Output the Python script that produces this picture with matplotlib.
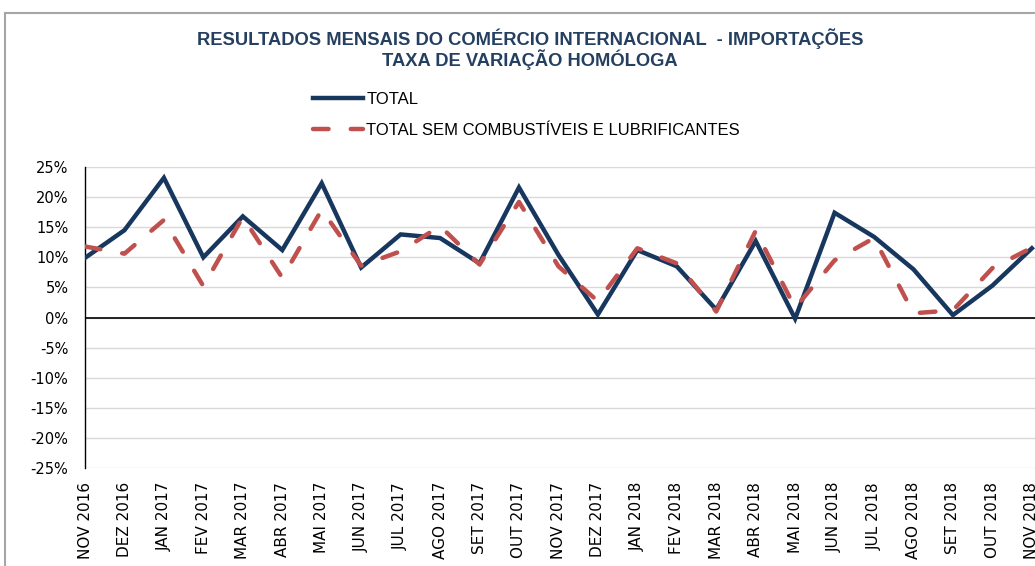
import matplotlib
matplotlib.use("Agg")
import matplotlib.pyplot as plt
from matplotlib.lines import Line2D
from matplotlib.ticker import FuncFormatter

months = ["NOV 2016", "DEZ 2016", "JAN 2017", "FEV 2017", "MAR 2017", "ABR 2017",
          "MAI 2017", "JUN 2017", "JUL 2017", "AGO 2017", "SET 2017", "OUT 2017",
          "NOV 2017", "DEZ 2017", "JAN 2018", "FEV 2018", "MAR 2018", "ABR 2018",
          "MAI 2018", "JUN 2018", "JUL 2018", "AGO 2018", "SET 2018", "OUT 2018",
          "NOV 2018"]
total = [9.9, 14.5, 23.2, 10.0, 16.8, 11.2, 22.3, 8.3, 13.8, 13.2, 9.0, 21.6,
         10.4, 0.5, 11.2, 8.5, 1.3, 12.7, -0.2, 17.4, 13.4, 8.0, 0.4, 5.3, 11.5]
sem_comb = [11.8, 10.6, 16.2, 5.2, 16.7, 6.6, 17.9, 8.6, 11.0, 15.2, 8.8, 19.2,
            8.5, 2.7, 11.5, 9.0, 1.0, 14.4, 1.6, 9.5, 13.2, 0.7, 1.2, 8.2, 11.6]
yticks = [25, 20, 15, 10, 5, 0, -5, -10, -15, -20, -25]

title_lines = ["RESULTADOS MENSAIS DO COMÉRCIO INTERNACIONAL  - IMPORTAÇÕES",
               "TAXA DE VARIAÇÃO HOMÓLOGA"]
label_total = "TOTAL"
label_sem = "TOTAL SEM COMBUSTÍVEIS E LUBRIFICANTES"

W, H = 1035, 566
fig = plt.figure(figsize=(W / 100, H / 100), dpi=100)
fig.patch.set_facecolor("white")

def fx(px):
    return px / W

def fy(py):
    return 1 - py / H

ax = fig.add_axes([fx(85), fy(468), fx(1035) - fx(85), fy(167) - fy(468)])

navy = "#17375E"
red = "#C0504D"
x = list(range(len(months)))

ax.plot(x, total, color=navy, lw=3.2, solid_joinstyle="miter", zorder=3,
        label=label_total)
ax.plot(x, sem_comb, color=red, lw=3.2, linestyle=(0, (3.5, 5.0)),
        dash_capstyle="round", zorder=4, label=label_sem)

ax.set_ylim(-25, 25)
ax.set_xlim(0, 24.08)
ax.set_yticks(yticks)
ax.yaxis.set_major_formatter(FuncFormatter(lambda v, p: f"{int(round(v))}%"))
ax.set_xticks(x)
ax.set_xticklabels(months, rotation=90, fontsize=11, family="DejaVu Sans")
for lab in ax.get_yticklabels():
    lab.set_fontsize(10.5)
ax.tick_params(axis="both", length=0, colors="black")
ax.tick_params(axis="y", pad=12)
ax.tick_params(axis="x", pad=10)

ax.grid(axis="y", color="#D9D9D9", lw=1.0, zorder=0)
ax.set_axisbelow(True)
ax.axhline(0, color="black", lw=1.2, zorder=2)
for s in ["top", "right", "bottom"]:
    ax.spines[s].set_visible(False)
ax.spines["left"].set_color("black")
ax.spines["left"].set_linewidth(1.0)

# titles
fig.text(fx(530), fy(39), title_lines[0], ha="center", va="center",
         fontsize=13.2, fontweight="bold", color="#243F60",
         family="Liberation Sans")
fig.text(fx(530), fy(60), title_lines[1], ha="center", va="center",
         fontsize=13.2, fontweight="bold", color="#243F60",
         family="Liberation Sans")

# legend
handles = [Line2D([], [], color=navy, lw=3.2),
           Line2D([], [], color=red, lw=3.2, linestyle=(0, (3.5, 5.0)),
                  dash_capstyle="round")]
leg = fig.legend(handles, [label_total, label_sem], loc="upper left",
                 bbox_to_anchor=(fx(313), fy(92)), frameon=False,
                 prop={"family": "Liberation Sans", "size": 12},
                 handlelength=3.0, handletextpad=0.2, labelspacing=0.95,
                 borderpad=0, borderaxespad=0)

# outer border (partial chart frame)
fig.add_artist(Line2D([fx(5), fx(1035)], [fy(13), fy(13)], color="#A6A6A6",
                      lw=1.5, transform=fig.transFigure))
fig.add_artist(Line2D([fx(5), fx(5)], [fy(13), fy(566)], color="#A6A6A6",
                      lw=1.5, transform=fig.transFigure))

fig.savefig("out.png", dpi=100, facecolor="white")
